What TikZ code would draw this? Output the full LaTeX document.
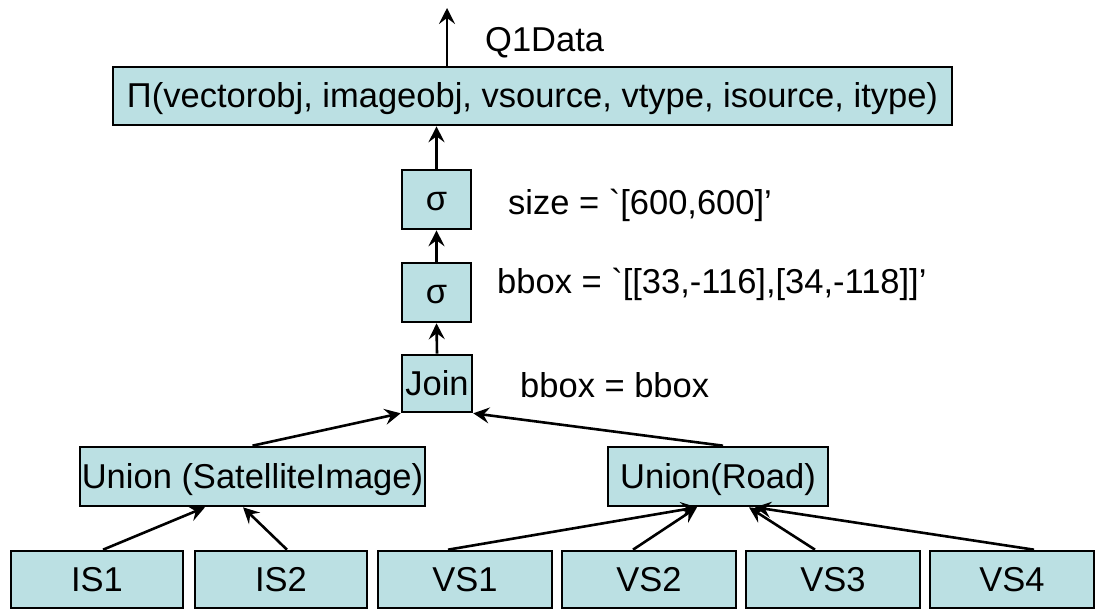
\documentclass[tikz,border=0pt]{standalone}
\usepackage{fontspec}
\setmainfont{Liberation Sans}[Ligatures=TeXOff]
\usetikzlibrary{arrows.meta}
\definecolor{boxfill}{RGB}{187,224,227}
\begin{document}
\begin{tikzpicture}[x=1pt,y=-1pt,
  font=\fontsize{34.5}{41}\selectfont,
  box/.style={draw=black, line width=2.6pt, fill=boxfill, inner sep=0pt, text height=26pt, text depth=3pt},
  arr/.style={line width=2.6pt, -{Stealth[length=16pt,width=16pt,inset=6pt]}},
  lbl/.style={anchor=base west, inner sep=0pt}]
\useasboundingbox (0,0) rectangle (1097,609);
\node[box, minimum width=839pt, minimum height=58pt] (pi) at (532.5,96) {Π(vectorobj, imageobj, vsource, vtype, isource, itype)};
\node[box, minimum width=69pt, minimum height=59pt] (s1) at (436.5,199.5) {σ};
\node[box, minimum width=69pt, minimum height=59pt] (s2) at (436.5,292.5) {σ};
\node[box, minimum width=70pt, minimum height=57pt] (join) at (437,383.5) {Join};
\node[box, minimum width=345pt, minimum height=59pt] (usat) at (252.5,476.5) {Union (SatelliteImage)};
\node[box, minimum width=220pt, minimum height=59pt] (uroad) at (718,476.5) {Union(Road)};
\node[box, minimum width=172pt, minimum height=57pt] (is1) at (97,579.5) {IS1};
\node[box, minimum width=172pt, minimum height=57pt] (is2) at (281,579.5) {IS2};
\node[box, minimum width=174pt, minimum height=57pt] (vs1) at (465,579.5) {VS1};
\node[box, minimum width=174pt, minimum height=57pt] (vs2) at (649,579.5) {VS2};
\node[box, minimum width=174pt, minimum height=57pt] (vs3) at (833,579.5) {VS3};
\node[box, minimum width=164pt, minimum height=57pt] (vs4) at (1012,579.5) {VS4};
\coordinate (out) at (447,8);
\node[lbl] (q1) at (485,52) {Q1Data};
\node[lbl] (l1) at (508,215) {size = `[600,600]’};
\node[lbl] (l2) at (497,294) {bbox = `[[33,-116],[34,-118]]’};
\node[lbl] (l3) at (520,397) {bbox = bbox};
\draw[arr] (out |- pi.north) -- (out);
\draw[arr] (s1.north) -- (s1.north |- pi.south);
\draw[arr] (s2.north) -- (s1.south);
\draw[arr] (join.north) -- (s2.south);
\draw[arr] (usat.north) -- (join.south west);
\draw[arr] ([xshift=5pt]uroad.north) -- (join.south east);
\draw[arr] ([xshift=6pt]is1.north) -- ([xshift=-47.5pt]usat.south);
\draw[arr] ([xshift=6pt]is2.north) -- ([xshift=-9.5pt]usat.south);
\draw[arr] ([xshift=-17pt]vs1.north) -- ([xshift=-21pt]uroad.south);
\draw[arr] ([xshift=-16pt]vs2.north) -- ([xshift=-21pt]uroad.south);
\draw[arr] ([xshift=-18pt]vs3.north) -- ([xshift=31pt]uroad.south);
\draw[arr] ([xshift=22pt]vs4.north) -- ([xshift=37pt]uroad.south);
\end{tikzpicture}
\end{document}
